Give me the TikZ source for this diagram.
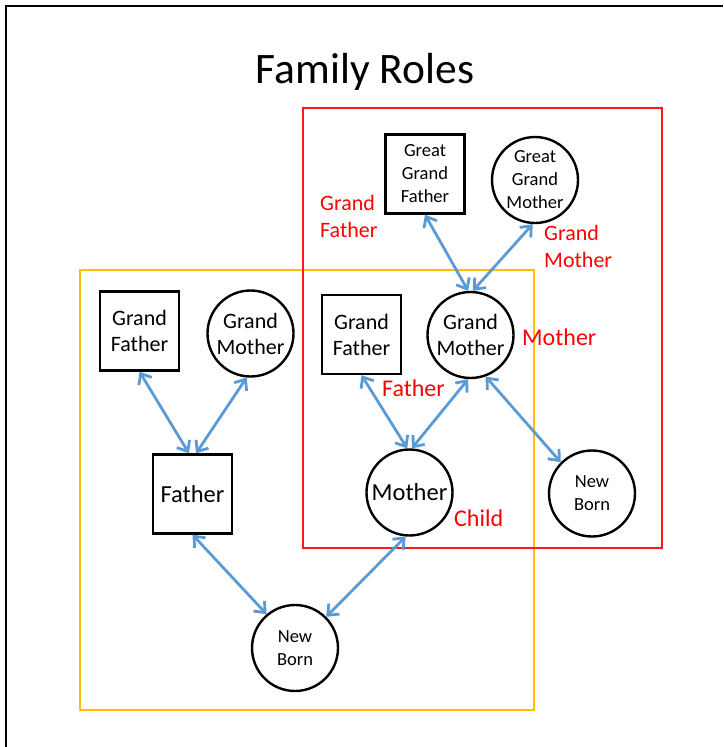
\documentclass[tikz,border=0pt]{standalone}
\usepackage{fontspec}
\setmainfont{Carlito}
\usetikzlibrary{arrows.meta}

\definecolor{linkblue}{HTML}{5B9BD5}
\definecolor{boxred}{HTML}{FF1A1A}
\definecolor{boxorange}{HTML}{FFC000}

\begin{document}
\begin{tikzpicture}[x=1pt, y=-1pt,
    male/.style={draw, line width=2.4pt, rectangle, minimum width=79pt, minimum height=79pt, inner sep=0pt, align=center, fill=white},
    female/.style={draw, line width=2.4pt, circle, minimum size=86pt, inner sep=0pt, align=center, fill=white},
    role/.style={text=red, anchor=west, align=left, inner sep=0pt},
    link/.style={draw=linkblue, line width=2.8pt, {Straight Barb[length=9pt,width=15pt]}-{Straight Barb[length=9pt,width=15pt]}}
]
                \useasboundingbox (0,0) rectangle (723,747);
                \draw[line width=2.6pt] (6,747) -- (6,6) -- (723,6);
                \node (title) at (365,72) {\fontsize{43.5}{50}\selectfont Family Roles};
                % the two generations boxes
                \draw[boxorange, line width=2pt] (80,270) rectangle (534,710);
                \draw[boxred, line width=2pt] (303,108) rectangle (662,548);
                % father's side
                \node[male, font=\fontsize{22}{26}\selectfont] (gfA) at (139.5,331) {Grand\\Father};
                \node[female, font=\fontsize{22}{26}\selectfont] (gmA) at (250.5,333.5) {Grand\\Mother};
                \node[male, font=\fontsize{24.5}{28}\selectfont] (fatherA) at (192.5,494) {Father};
                \node[female, font=\fontsize{18.5}{23}\selectfont] (newbornA) at (295,648) {New\\Born};
                % mother's side
                \node[male, font=\fontsize{18.5}{23}\selectfont] (ggf) at (425,174) {Great\\Grand\\Father};
                \node[female, font=\fontsize{18.5}{23}\selectfont] (ggm) at (535,180) {Great\\Grand\\Mother};
                \node[male, font=\fontsize{22}{26}\selectfont] (gfB) at (361.5,334.5) {Grand\\Father};
                \node[female, font=\fontsize{22}{26}\selectfont] (gmB) at (470.5,335) {Grand\\Mother};
                \node[female, font=\fontsize{24.5}{28}\selectfont] (motherB) at (409.5,492.5) {Mother};
                \node[female, font=\fontsize{18.5}{23}\selectfont] (newbornB) at (592,493.5) {New\\Born};
                % roles in red
                \node[role, font=\fontsize{22}{27}\selectfont] (roleGF) at (320,216.5) {Grand\\Father};
                \node[role, font=\fontsize{22}{27}\selectfont] (roleGM) at (544,246) {Grand\\Mother};
                \node[role, font=\fontsize{24}{28}\selectfont] (roleM) at (522,337) {Mother};
                \node[role, font=\fontsize{24}{28}\selectfont] (roleF) at (382,388) {Father};
                \node[role, font=\fontsize{24}{28}\selectfont] (roleC) at (454,518) {Child};
                % links
                \draw[link] (gfA.south) -- (fatherA.95);
                \draw[link] (gmA.-95) -- (fatherA.85);
                \draw[link] (fatherA.south) -- (newbornA.130);
                \draw[link] (motherB.-95) -- (newbornA.45);
                \draw[link] (ggf.south) -- (gmB.93);
                \draw[link] (ggm.-93) -- (gmB.87);
                \draw[link] (gfB.south) -- (motherB.93);
                \draw[link] (gmB.-93) -- (motherB.87);
                \draw[link] (gmB.-70) -- (newbornB.135);
            \end{tikzpicture}
\end{document}
